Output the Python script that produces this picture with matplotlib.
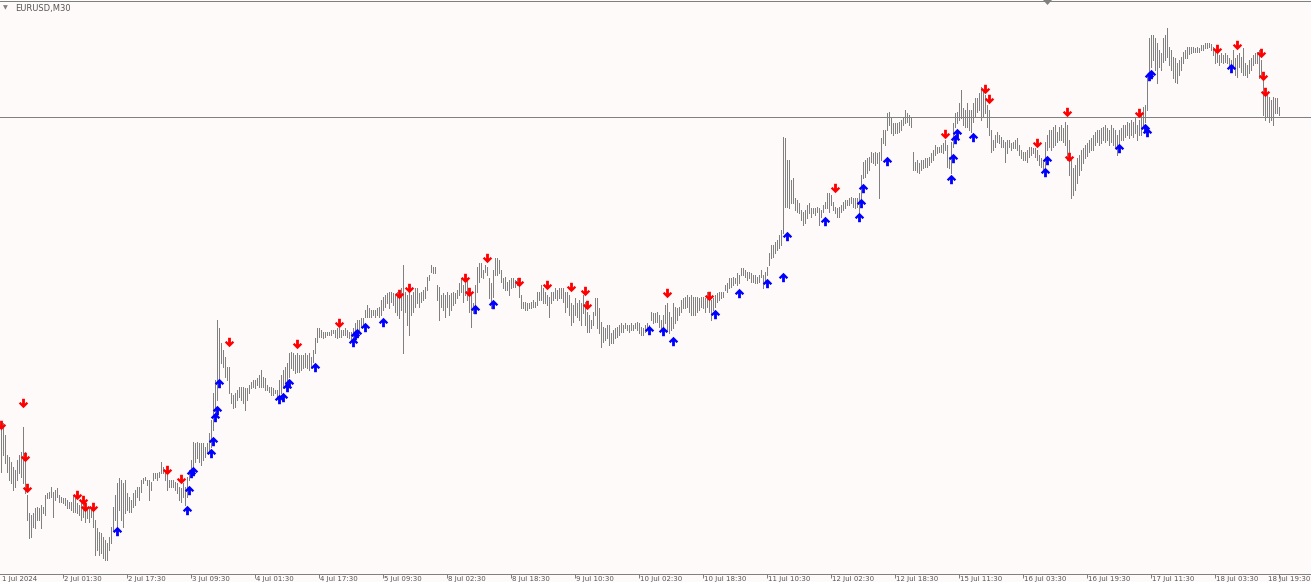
import numpy as np
import matplotlib
matplotlib.use("Agg")
import matplotlib.pyplot as plt
from matplotlib.path import Path
from matplotlib.patches import Polygon
from matplotlib.transforms import blended_transform_factory

# ── Data: EURUSD M30, one bar per half hour ────────────────────────────────
# prices are kept as pips above BASE
BASE = 1.0700
PIP = 0.0001

high_pips = [
    74, 73.5, 67.5, 57.5, 56.5, 54, 51.5, 50, 55, 57.5,
    59, 71.5, 59, 37.5, 28.5, 27.5, 28.5, 31, 31.5, 31,
    32.5, 31.5, 37.5, 38.5, 39, 41.5, 39, 40, 41, 37.5,
    36.5, 36, 36, 35, 34, 34, 37.5, 36, 33.5, 32.5,
    33.5, 32.5, 31.5, 31.5, 31, 31.5, 31.5,
    25, 21, 19, 18.5, 16.5, 15, 13.5, 16.5, 21.5, 31.5,
    37.5, 43.5, 46, 45, 43.5, 45, 38.5, 36.5, 35, 38.5,
    40, 41.5, 41.5, 45, 46, 46.5, 45, 45, 44, 48.5,
    48.5, 48.5, 49, 54, 51.5, 50, 47.5, 45, 45, 45,
    44, 43.5, 41.5, 41, 43.5, 41.5, 46.5, 50, 55, 64,
    63.5, 64, 63.5, 63.5, 63.5, 61.5, 63.5, 68.5, 75, 88.5,
    95,
    125, 121, 113.5, 110, 106.5, 101.5, 101.5, 88.5, 87.5, 88.5,
    90, 91.5, 91.5, 91.5, 91, 91, 92.5, 94, 95, 95,
    96, 97.5, 100, 96.5, 96, 92.5, 91.5, 91.5, 91, 90,
    90, 95, 97.5, 100, 101.5, 103.5, 108.5, 109, 108.5, 107.5,
    108.5, 107.5, 107.5, 107.5, 108.5, 107.5, 108.5, 106.5, 110, 116,
    121, 121, 120, 119, 119, 119, 119, 120, 120, 120,
    121, 121, 120, 120, 121, 120, 119, 119, 121, 123.5,
    125, 125, 126, 126, 130, 132.5, 131, 130, 130, 130,
    131, 131.5, 135, 136.5, 137.5, 138.5, 139, 139, 138.5, 137.5,
    139, 137.5, 141, 152.5, 139, 137.5, 141, 137.5, 139, 141,
    141, 138.5, 139, 140, 141.5, 146.5, 147.5, 152.5, 151.5, 151.5,
    142.5, 141.5, 137.5, 138.5, 137.5, 139, 137.5, 138.5, 139, 138.5,
    140, 143.5, 146, 142.5, 143.5, 146, 141, 137.5, 133.5, 142.5,
    151.5, 153.5, 153.5, 150, 152.5, 151.5, 146, 143.5, 150, 156,
    156, 155, 150, 146, 146.5, 144, 145, 146, 146, 145,
    146, 143.5, 137.5, 134, 134, 133.5, 133.5, 134, 135, 134,
    139, 139, 142.5, 141, 139, 137.5, 136.5, 139, 139, 141,
    140, 141, 141, 141, 139, 139, 137.5, 133.5, 132.5, 136,
    133.5, 135, 133.5, 137.5, 134, 129, 127.5, 125, 129, 136,
    136, 131, 124, 121.5, 121, 122.5, 122.5, 118.5, 120, 121,
    121.5, 122.5, 123.5, 122.5, 123.5, 122.5, 122.5, 123.5, 122.5, 123.5,
    124, 123.5, 121.5, 121, 122.5, 123.5, 122.5, 129, 128.5, 128.5,
    129, 127.5, 125, 127.5, 132.5, 133.5, 129, 126.5, 133.5, 131.5,
    131, 131.5, 135, 136, 136.5, 137.5, 136.5, 137.5, 136.5, 136.5,
    136.5, 136, 136.5, 136.5, 136, 139, 137.5, 135, 136, 137.5,
    138.5, 139, 139, 139, 142.5, 143.5, 146, 146, 146.5, 146,
    148.5, 147.5, 151, 151, 150, 149, 149, 148.5, 147.5, 147.5,
    146.5, 147.5, 150, 147.5, 149, 151.5, 158.5, 162.5, 162.5, 164,
    165, 167.5, 170, 216.5, 216, 205, 205, 195, 196, 186,
    185, 183.5, 180, 179, 180, 182.5, 183.5, 181, 181, 181,
    181.5, 181, 180, 182.5, 184, 188.5, 188.5, 187.5, 184, 181.5,
    181, 181.5, 182.5, 184, 185, 185, 186, 186.5, 186, 186,
    186, 188.5, 197.5, 204, 205, 206, 206.5, 209, 208.5, 209,
    208.5, 209, 216, 220, 220, 228.5, 229, 226, 223.5, 223.5,
    223.5, 224, 225, 226.5, 230, 228.5, 227.5, 226, 209, 204,
    205, 203.5, 205, 205, 206, 206, 206.5, 208.5, 210, 212.5,
    211.5, 211.5, 212.5, 213.5, 215, 212.5, 206.5, 214, 223.5, 228.5,
    229, 233.5, 240, 231, 230, 233.5, 230, 230, 233.5, 236,
    236, 238.5, 241.5, 240, 237.5, 232.5, 230, 220, 215, 217.5,
    219, 217.5, 216.5, 215, 214, 215, 215, 213.5, 214, 215,
    216, 212.5, 210, 209, 209, 210, 211.5, 211.5, 211, 211,
    210, 207.5, 206, 205, 214, 217.5, 220, 220, 221.5, 222.5,
    219, 221.5, 222.5, 221, 224, 222.5, 215, 205, 201, 202.5,
    206, 207.5, 210, 211, 212.5, 213.5, 215, 216, 217.5, 219,
    220, 220, 221, 221.5, 222.5, 221, 220, 222.5, 221, 220,
    217.5, 220, 221, 222.5, 222.5, 224, 223.5, 225, 224, 226,
    222.5, 225, 228.5, 231.5, 232.5, 246.5, 266, 267.5, 267.5, 266,
    263.5, 260, 258.5, 266, 267.5, 271, 261.5, 260, 256.5, 256,
    253.5, 255, 256.5, 259, 260, 261.5, 261.5, 261.5, 261.5, 261,
    261.5, 261, 262.5, 262.5, 263.5, 263.5, 263.5, 263, 261.5, 260,
    259, 257.5, 258.5, 257.5, 258.5, 257.5, 256, 255, 260, 256,
    257.5, 258.5, 256.5, 261, 253.5, 252.5, 255, 256, 257.5, 258.5,
    259, 260, 255, 245, 241, 238.5, 236.5, 235, 236.5, 236,
    236, 231.5,
]

low_pips = [
    49, 57.5, 53.5, 49, 45, 43.5, 40, 41.5, 45, 48.5,
    46.5, 43.5, 38.5, 25, 16, 16.5, 21.5, 21, 25, 25,
    21, 28.5, 27.5, 36, 36, 36.5, 26.5, 35, 36.5, 34,
    34, 33.5, 32.5, 31, 31, 30, 29, 29, 28.5, 27.5,
    25, 26.5, 24, 26, 24, 26.5, 21.5,
    7.5, 10, 7.5, 8.5, 6, 5, 5, 10, 13.5, 20,
    25, 18.5, 30, 25, 21.5, 28.5, 30, 29, 29, 31.5,
    32.5, 36.5, 35, 39, 43.5, 45, 42.5, 35, 40, 45,
    46, 45, 46.5, 48.5, 48.5, 45, 40, 41.5, 41.5, 41.5,
    40, 38.5, 35, 34, 36.5, 32.5, 36.5, 45, 46.5, 51.5,
    54, 56, 54, 52.5, 55, 56.5, 58.5, 58.5, 61.5, 70,
    77.5,
    85, 91.5, 103.5, 101.5, 96.5, 95, 88.5, 83.5, 81, 81.5,
    85, 86.5, 85, 83.5, 80, 85, 88.5, 91, 91.5, 91,
    92.5, 91.5, 91.5, 91.5, 90, 90, 89, 87.5, 87.5, 88.5,
    86.5, 85, 88.5, 91, 91.5, 95, 96.5, 101, 100, 98.5,
    99, 99, 100, 101, 101.5, 101, 100, 101, 104, 108.5,
    114, 116.5, 116.5, 116, 116.5, 117.5, 117.5, 117.5, 118.5, 116.5,
    116, 116.5, 116.5, 117.5, 117.5, 116.5, 116, 115, 113.5, 116.5,
    118.5, 119, 121.5, 121.5, 126.5, 126.5, 126.5, 126.5, 127.5, 126.5,
    127.5, 126.5, 127.5, 130, 131.5, 133.5, 131, 134, 132.5, 129,
    127.5, 126, 130, 108.5, 129, 122.5, 117.5, 127.5, 129, 131.5,
    133.5, 131.5, 134, 135, 136, 140, 145, 149, 148.5, 148.5,
    135, 125, 131.5, 130, 126.5, 131.5, 127.5, 130, 132.5, 133.5,
    136, 137.5, 139, 134, 137.5, 135, 129, 121.5, 128.5, 132.5,
    139, 144, 146.5, 146, 149, 147.5, 136, 131, 136.5, 147.5,
    147.5, 148.5, 144, 141, 140, 140, 137.5, 141, 141.5, 141.5,
    142.5, 136.5, 131, 131, 130, 130, 131, 131, 131.5, 131.5,
    132.5, 135, 135, 133.5, 133.5, 132.5, 126.5, 133.5, 135, 136,
    135, 136, 136, 134, 129, 131.5, 127.5, 122.5, 124, 127.5,
    126.5, 125, 122.5, 128.5, 122.5, 119, 119, 121, 122.5, 127.5,
    121, 118.5, 111.5, 114, 115, 116, 112.5, 113.5, 113.5, 116,
    116.5, 117.5, 119, 119, 121, 120, 119, 120, 120, 121,
    120, 118.5, 117.5, 117.5, 119, 121, 120, 125, 123.5, 124,
    124, 121.5, 120, 121, 123.5, 120, 118.5, 120, 121, 123.5,
    125, 127.5, 129, 131, 131, 131.5, 129, 127.5, 127.5, 127.5,
    129, 130, 131.5, 131, 129, 131.5, 129, 125, 130, 131.5,
    134, 135, 136, 136.5, 140, 139, 141, 141.5, 142.5, 143.5,
    142.5, 143.5, 147.5, 147.5, 146.5, 145, 146, 144, 144, 143.5,
    143.5, 144, 146.5, 141, 143.5, 147.5, 152.5, 156, 156.5, 158.5,
    160, 161, 162.5, 168.5, 181.5, 181.5, 181, 183.5, 183.5, 180,
    179, 178.5, 175, 172.5, 173.5, 176, 178.5, 176.5, 178.5, 177.5,
    179, 172.5, 176.5, 179, 181, 181, 179, 182.5, 180, 178.5,
    176.5, 176.5, 179, 180, 181, 182.5, 182.5, 183.5, 181.5, 181,
    181.5, 176.5, 185, 196, 196.5, 198.5, 200, 204, 203.5, 202.5,
    203.5, 186, 205, 213.5, 212.5, 220, 222.5, 218.5, 217.5, 218.5,
    218.5, 219, 220, 222.5, 223.5, 224, 222.5, 221.5, 200, 200,
    199, 198.5, 200, 201, 201.5, 201.5, 202.5, 204, 205, 207.5,
    208.5, 209, 209, 208.5, 210, 201.5, 201, 198.5, 211.5, 221.5,
    223.5, 225, 226, 222.5, 221.5, 221.5, 220, 219, 224, 226.5,
    229, 230, 225, 226.5, 228.5, 221.5, 217.5, 209, 210, 211.5,
    214, 213.5, 211.5, 211.5, 204, 208.5, 211.5, 210, 211, 211,
    210, 207.5, 206, 205, 205, 204, 206.5, 207.5, 208.5, 206.5,
    205, 202.5, 201.5, 200, 201.5, 210, 211.5, 210, 211.5, 212.5,
    214, 215, 215, 214, 212.5, 205, 197.5, 186, 187.5, 190,
    193.5, 197.5, 200, 203.5, 206, 207, 209, 210, 210, 212.5,
    214, 212.5, 213.5, 215, 214, 215, 212.5, 214, 212.5, 211,
    207.5, 210, 215, 215, 216.5, 217.5, 216, 217.5, 216.5, 218.5,
    215, 217.5, 217.5, 222.5, 224, 230, 249, 251.5, 255, 250,
    243.5, 251.5, 250, 254, 255, 256.5, 252.5, 250, 246, 244,
    243.5, 247.5, 250, 253.5, 256, 256, 258, 258.5, 259, 259,
    259, 259, 260, 260, 261, 261, 261.5, 260, 257.5, 253.5,
    254, 252.5, 254, 253.5, 254, 253.5, 252, 251.5, 251.5, 247.5,
    246.5, 251.5, 249, 247.5, 247.5, 246.5, 248.5, 250, 252.5, 253.5,
    253.5, 246, 246.5, 227.5, 225, 226.5, 224, 225, 222.5, 228.5,
    228.5, 227.5,
]

# horizontal price level
level_pips = 226.5

# indicator signals: bar index and price (pips above BASE)
sell_idx = [0, 11, 12, 13, 38, 41, 42, 46, 83, 90, 114, 148, 169, 199, 204,
            232, 234, 243, 259, 273, 285, 292, 293, 333, 354, 417, 472, 492,
            494, 518, 533, 534, 569, 608, 618, 630, 631, 632]
sell_pips = [72.5, 83.5, 56.5, 41, 37.5, 35, 31.5, 31.5, 50, 45.5, 114, 113,
             123.5, 138, 141, 146, 139, 156, 144, 142.5, 141.5, 139.5, 132.5,
             138.5, 137, 191, 218, 240.5, 235.5, 213.5, 229, 206.5, 228.5,
             260.5, 262.5, 258.5, 247, 239]

buy_idx = [58, 93, 94, 95, 96, 105, 106, 107, 108, 109, 139, 141, 143, 144,
           157, 176, 177, 178, 182, 191, 237, 246, 324, 331, 336, 357, 369,
           383, 391, 393, 412, 429, 430, 431, 443, 475, 476, 477, 478, 486,
           522, 523, 559, 572, 573, 574, 575, 615]
buy_pips = [19.5, 30, 40, 48.5, 49.5, 58.5, 64.5, 76.5, 80, 93.5, 85.5, 86.5,
            91.5, 93.5, 101.5, 114, 117.5, 118.5, 121.5, 124, 130.5, 133, 120,
            119.5, 114.5, 128, 138.5, 143.5, 146.5, 167, 174.5, 176.5, 183.5,
            191, 204.5, 195.5, 206, 215.5, 218.5, 216.5, 199, 205, 211, 221,
            219, 247, 248, 251]

# time axis
first_label = "1 Jul 2024"
tick_idx = list(range(31, 640, 32))
tick_labels = ["2 Jul 01:30", "2 Jul 17:30", "3 Jul 09:30", "4 Jul 01:30",
               "4 Jul 17:30", "5 Jul 09:30", "8 Jul 02:30", "8 Jul 18:30",
               "9 Jul 10:30", "10 Jul 02:30", "10 Jul 18:30", "11 Jul 10:30",
               "12 Jul 02:30", "12 Jul 18:30", "15 Jul 11:30", "16 Jul 03:30",
               "16 Jul 19:30", "17 Jul 11:30", "18 Jul 03:30", "18 Jul 19:30"]

# ── Plot ───────────────────────────────────────────────────────────────────
BG = '#fffafa'
GREY = '#808080'
PX = 0.72   # one pixel in points at dpi 100

hi = BASE + np.array(high_pips) * PIP
lo = BASE + np.array(low_pips) * PIP
bars = np.arange(len(hi))

fig = plt.figure(figsize=(13.11, 5.82), dpi=100, facecolor=BG)
ax = fig.add_axes([0, 8 / 582, 1, 573 / 582])
ax.set_facecolor(BG)

ax.vlines(bars, lo, hi, colors=GREY, linewidth=PX, antialiased=False, zorder=2)
ax.axhline(BASE + level_pips * PIP, color=GREY, linewidth=PX,
           antialiased=False, zorder=1)

# thick arrow markers (Wingdings style)
arrow_v = [(0, -0.5), (0.5, 0), (0.32, 0.17), (0.15, 0), (0.15, 0.5),
           (-0.15, 0.5), (-0.15, 0), (-0.32, 0.17), (-0.5, 0), (0, -0.5)]
down_arrow = Path(arrow_v, closed=True)
up_arrow = Path([(a, -b) for a, b in arrow_v], closed=True)

ax.scatter(sell_idx, BASE + np.array(sell_pips) * PIP, marker=down_arrow,
           s=46, c='#ff0000', linewidths=0, zorder=3)
ax.scatter(buy_idx, BASE + np.array(buy_pips) * PIP, marker=up_arrow,
           s=46, c='#0000ff', linewidths=0, zorder=3)

ax.set_xlim(-0.5, 655)
ax.set_ylim(BASE - 2 * PIP, BASE + 284.5 * PIP)
ax.set_yticks([])
ax.set_xticks(tick_idx)
ax.tick_params(axis='x', direction='out', length=3, width=PX, color=GREY,
               labelbottom=False)
for side in ['left', 'right']:
    ax.spines[side].set_visible(False)
for side in ['top', 'bottom']:
    ax.spines[side].set_color(GREY)
    ax.spines[side].set_linewidth(PX)

# date labels squeezed into the strip under the axis line
trans = blended_transform_factory(ax.transData, fig.transFigure)
label_pos = [0] + tick_idx
label_txt = [first_label] + tick_labels
for pos, lab in zip(label_pos[:-1], label_txt[:-1]):
    ax.text(pos + 0.3, 1.5 / 582, lab, transform=trans, ha='left',
            va='baseline', fontsize=5, color='#555555', clip_on=False)
# the last one is pushed left so it stays inside the window
fig.text(1 - 1 / 1311, 1.5 / 582, label_txt[-1], ha='right', va='baseline',
         fontsize=5, color='#555555')

# symbol caption and chart-shift marker
fig.text(3 / 1311, 1 - 8 / 582, '\u25bc', fontsize=4.5, color=GREY,
         ha='left', va='center')
fig.text(15 / 1311, 1 - 8 / 582, 'EURUSD,M30', fontsize=6, color='#555555',
         ha='left', va='center')
fig.add_artist(Polygon([(1043 / 1311, 1), (1052 / 1311, 1),
                        (1047.5 / 1311, 1 - 5 / 582)],
                       closed=True, transform=fig.transFigure,
                       facecolor=GREY, edgecolor='none'))

fig.savefig('out.png', dpi=100, facecolor=BG)
